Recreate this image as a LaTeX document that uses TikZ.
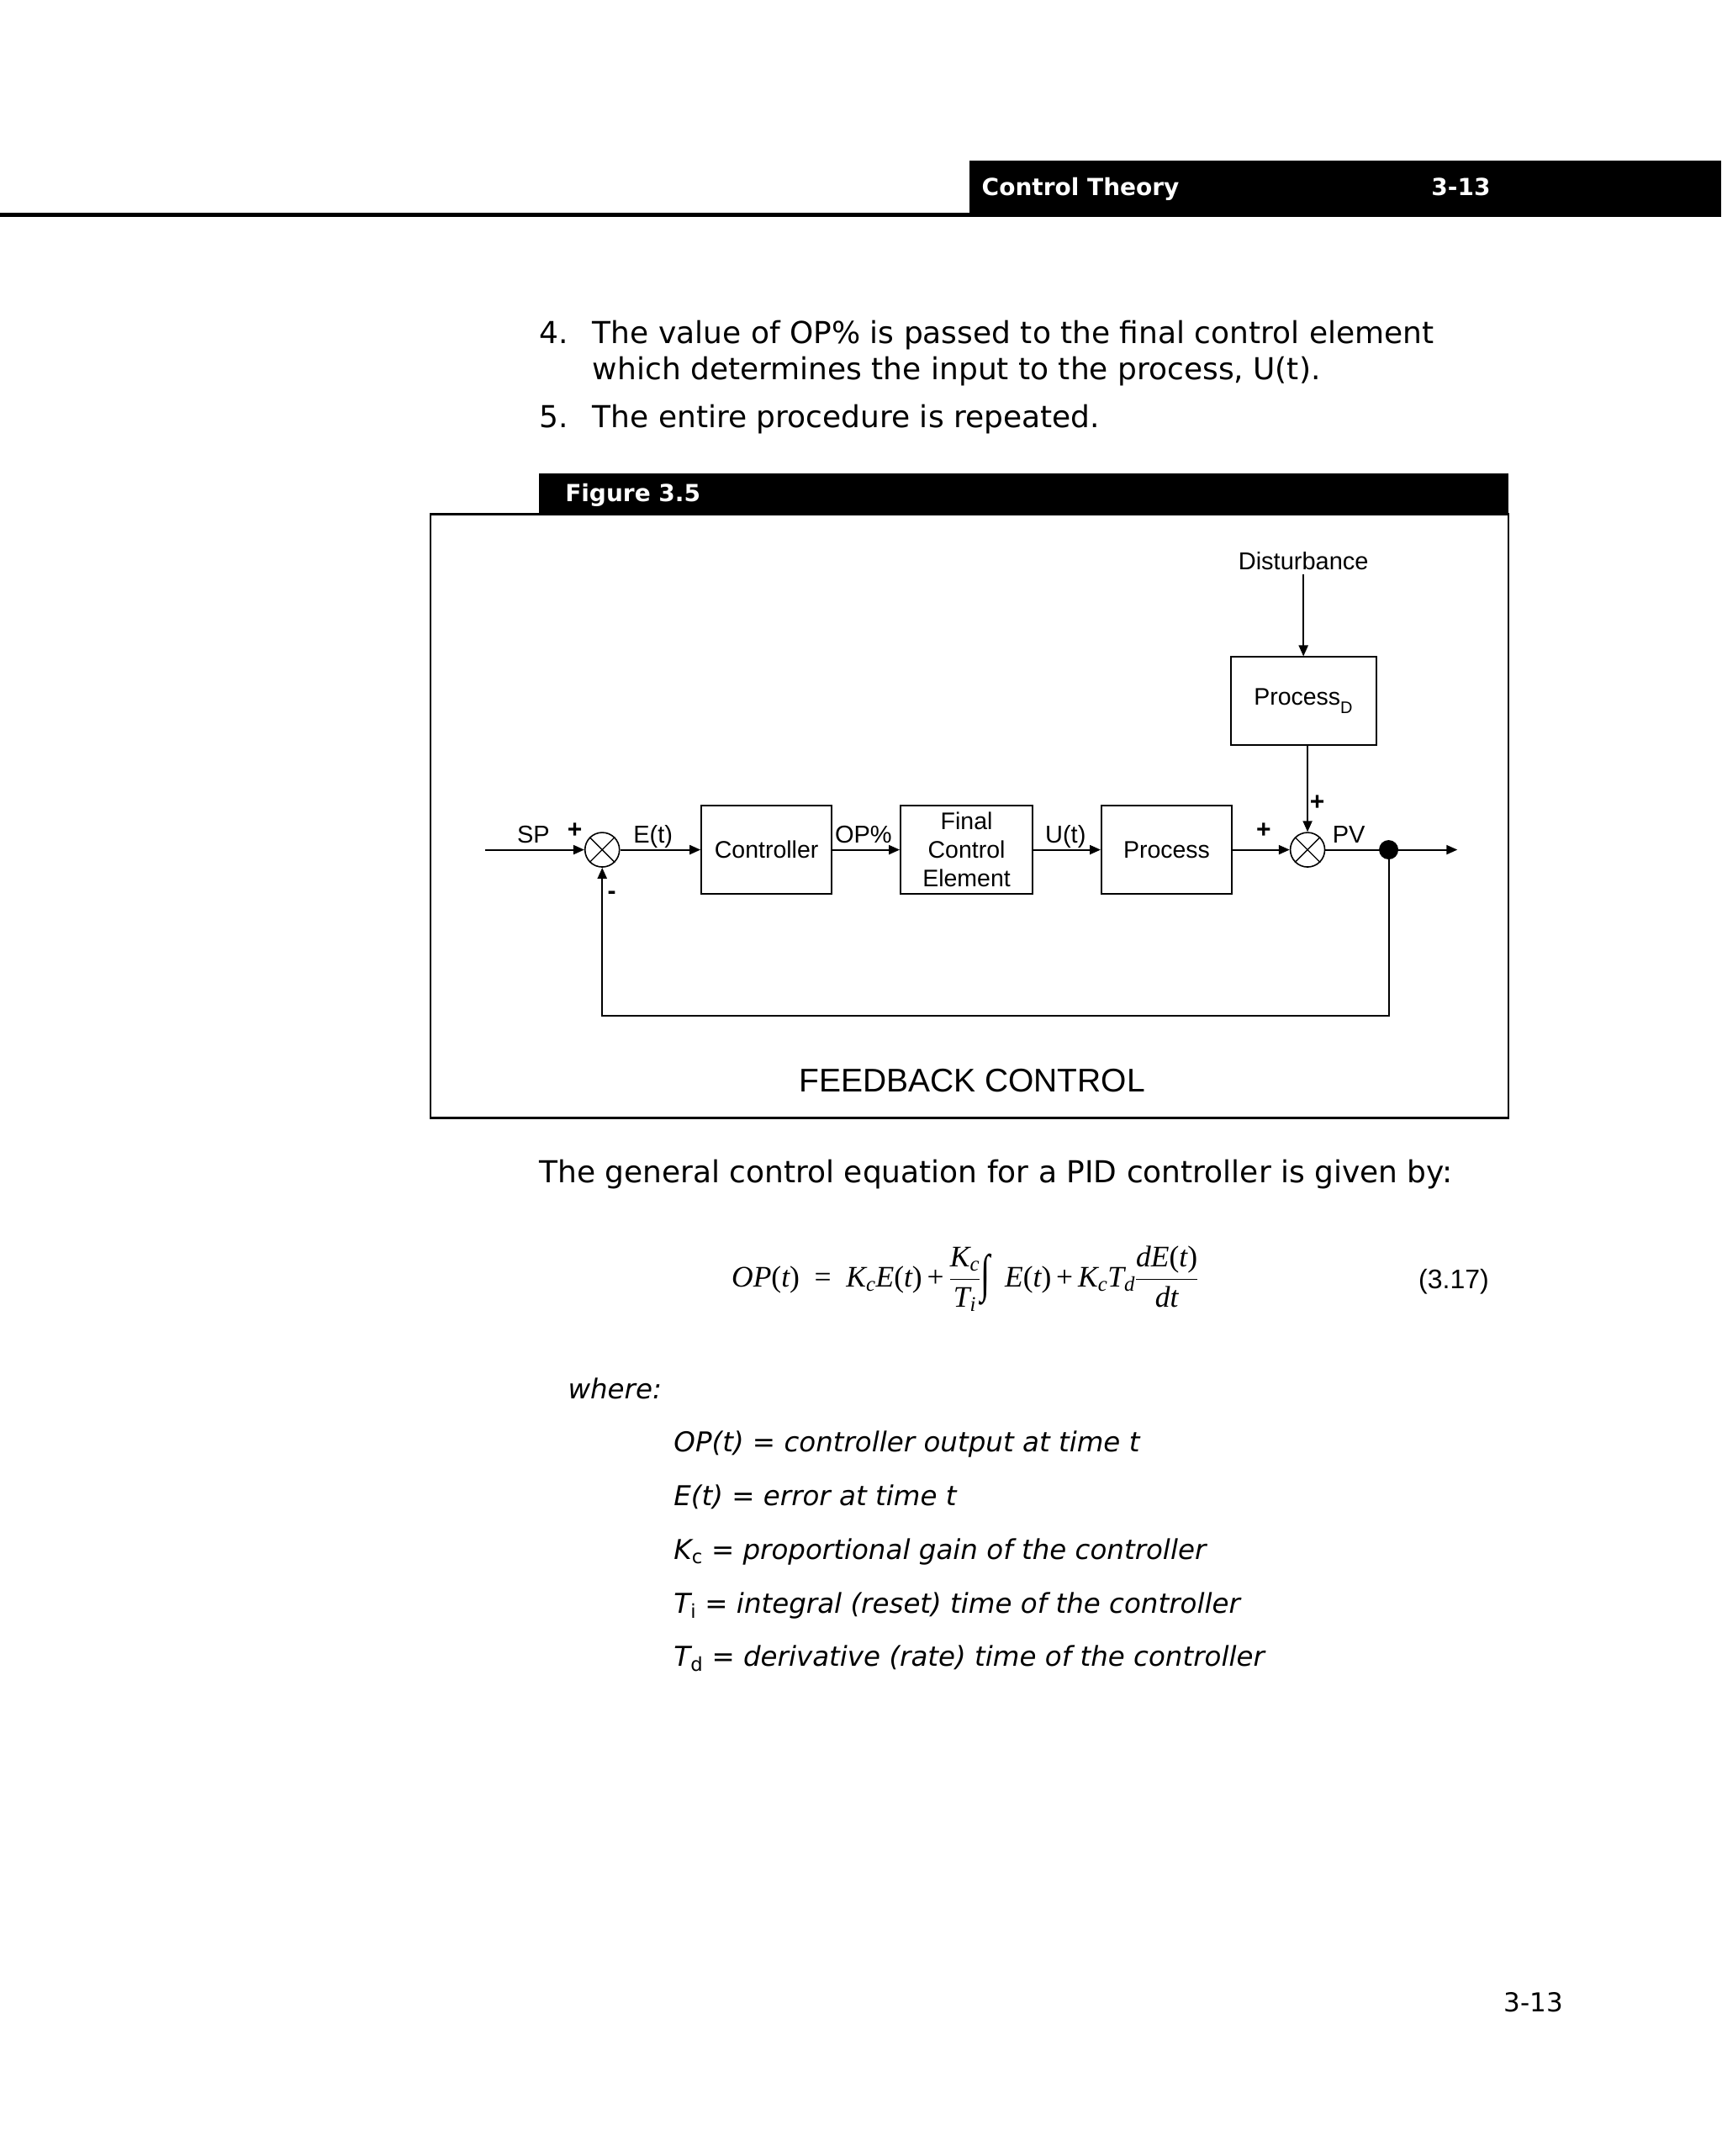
\RequirePackage{fix-cm}
\documentclass[tikz,border=0pt]{standalone}
\usepackage{fontspec}
\usepackage{amsmath}
\usepackage{graphicx}
\setmainfont{DejaVu Sans}
\newfontfamily\arialf{Liberation Sans}
\newfontfamily\timesf{Liberation Serif}
\usetikzlibrary{arrows.meta}
\newcommand{\tv}[1]{\text{\timesf\itshape #1}}
\newcommand{\tu}[1]{\text{\timesf #1}}
\newcommand{\ts}[1]{\text{#1}}
\newcommand{\myint}{\text{\timesf\raisebox{-0.3ex}{\scalebox{1.15}[1.75]{∫}}}}
\begin{document}
\begin{tikzpicture}[x=1.6358pt,y=-1.6358pt,
  >={Triangle[length=13pt,width=11pt]},
  hdr/.style={text=white,font=\bfseries\fontsize{28}{32}\selectfont,inner sep=0,anchor=base west},
  body/.style={font=\fontsize{36}{42}\selectfont,inner sep=0,anchor=base west},
  defn/.style={font=\itshape\fontsize{32.5}{38}\selectfont,inner sep=0,anchor=base west},
  blk/.style={draw,line width=2pt,minimum height=105pt,align=center,inner sep=0,
    font=\arialf\fontsize{28.5}{34}\selectfont},
  sumn/.style={draw,circle,line width=1.6pt,minimum size=41pt,inner sep=0},
  lbl/.style={font=\arialf\fontsize{29}{32}\selectfont,inner sep=0,anchor=base},
  pm/.style={font=\arialf\bfseries\fontsize{30}{32}\selectfont,inner sep=0},
  conn/.style={line width=2pt}]
\fill[white] (0,0) rectangle (1252,1568);
\useasboundingbox (0,0) rectangle (1252,1568);
% page header
\fill[black] (705,117) rectangle (1252,158);
\fill[black] (0,154.5) rectangle (705,158);
\node[hdr] (ht) at (714,142) {Control Theory};
\node[hdr] (hn) at (1041,142) {3-13};
% body text
\node[body] (n4) at (392,250) {4.};
\node[body] (t4) at (431,250) {The value of OP\% is passed to the final control element};
\node[body] (t4b) at (431,276) {which determines the input to the process, U(t).};
\node[body] (n5) at (392,311) {5.};
\node[body] (t5) at (431,311) {The entire procedure is repeated.};
% figure header and frame
\fill[black] (392,344) rectangle (1097,374);
\node[hdr] (fig) at (411,365) {Figure 3.5};
\draw[line width=2.5pt] (313,374) rectangle (1097,813);
% diagram
\node[lbl,anchor=center,inner sep=5pt] (dist) at (948,408) {Disturbance};
\node[blk,minimum width=173pt] (pd) at (948,510) {Process\raisebox{-0.35ex}{\textsubscript{D}}};
\node[sumn] (s1) at (438,618) {};
\node[sumn] (s2) at (951,618) {};
\draw[line width=1.3pt] (s1.north west) -- (s1.south east) (s1.north east) -- (s1.south west);
\draw[line width=1.3pt] (s2.north west) -- (s2.south east) (s2.north east) -- (s2.south west);
\node[blk,minimum width=155pt] (ctrl) at (557.5,618) {Controller};
\node[blk,minimum width=157pt] (fce) at (703,618) {Final\\Control\\Element};
\node[blk,minimum width=155pt] (proc) at (848.5,618) {Process};
\node[circle,fill=black,minimum size=23pt,inner sep=0] (dot) at (1010,618) {};
\coordinate (in) at (353,618);
\coordinate (out) at (1060,618);
\coordinate (fbl) at (438,739);
\draw[conn,->] (dist.south) -- (pd.north);
\draw[conn,->] (pd.south -| s2.north) -- (s2.north);
\draw[conn,->] (in) -- (s1.west);
\draw[conn,->] (s1.east) -- (ctrl.west);
\draw[conn,->] (ctrl.east) -- (fce.west);
\draw[conn,->] (fce.east) -- (proc.west);
\draw[conn,->] (proc.east) -- (s2.west);
\draw[conn] (s2.east) -- (dot.center);
\draw[conn,->] (dot.center) -- (out);
\draw[conn,->] (dot.center) |- (fbl) -- (s1.south);
\node[lbl] (lsp) at (388,613) {SP};
\node[lbl] (let) at (475,613) {E(t)};
\node[lbl] (lop) at (628,613) {OP\%};
\node[lbl] (lut) at (775,613) {U(t)};
\node[lbl] (lpv) at (981,613) {PV};
\node[pm] (p1) at (418,604) {+};
\node[pm] (p2) at (919,604) {+};
\node[pm] (p3) at (958,584) {+};
\node[pm] (m1) at (445,651) {-};
\node[font=\arialf\fontsize{39}{44}\selectfont,inner sep=0] (title) at (707,786) {FEEDBACK CONTROL};
% equation text
\node[body] (gen) at (392,860) {The general control equation for a PID controller is given by:};
\node[anchor=west,inner sep=0,font=\timesf\fontsize{35.5}{40}\selectfont] (eq) at (532,930)
  {$\tv{OP}\tu{(}\tv{t}\tu{)}\ \ \ts{=}\ \ \tv{K}_{\tv{c}}\tv{E}\tu{(}\tv{t}\tu{)}\ts{\,+\,}\dfrac{\tv{K}_{\tv{c}}}{\tv{T}_{\tv{i}}}\myint\ \ \tv{E}\tu{(}\tv{t}\tu{)}\ts{\,+\,}\tv{K}_{\tv{c}}\tv{T}_{\tv{d}}\dfrac{\tv{dE}\tu{(}\tv{t}\tu{)}}{\tv{dt}}$};
\node[anchor=base east,inner sep=0,font=\arialf\fontsize{32}{36}\selectfont] (eqn) at (1083,937) {(3.17)};
\node[defn] (where) at (413,1017) {where:};
\node[defn] (d1) at (490,1056) {OP(t) = controller output at time t};
\node[defn] (d2) at (490,1095) {E(t) = error at time t};
\node[defn] (d3) at (490,1134) {K\textsubscript{\upshape c} = proportional gain of the controller};
\node[defn] (d4) at (490,1173) {T\textsubscript{\upshape i} = integral (reset) time of the controller};
\node[defn] (d5) at (490,1212) {T\textsubscript{\upshape d} = derivative (rate) time of the controller};
\node[body,anchor=base east,font=\fontsize{31}{36}\selectfont] (pg) at (1137,1463) {3-13};
\end{tikzpicture}
\end{document}
